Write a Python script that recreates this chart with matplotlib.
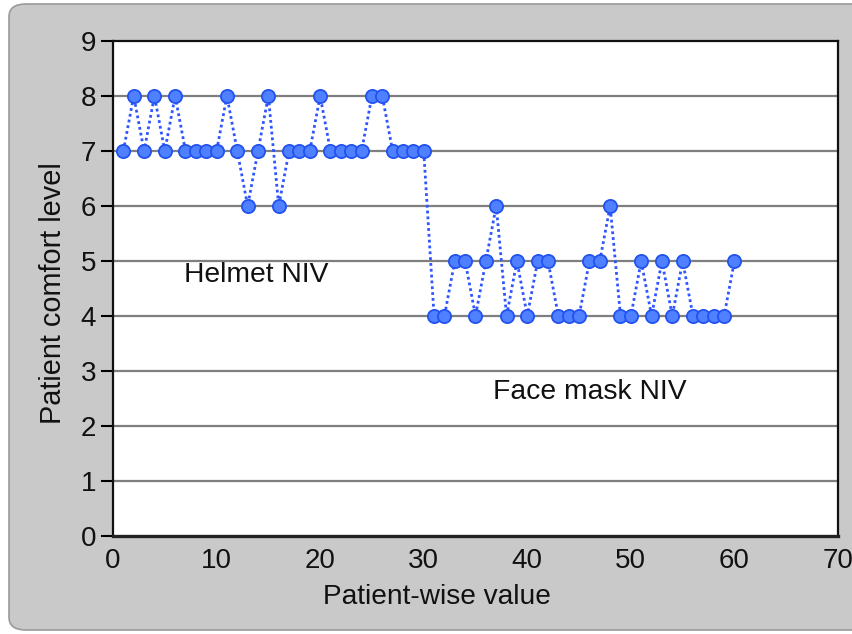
#!/usr/bin/env python3
"""
Patient comfort level, helmet NIV vs face mask NIV.
"""

import matplotlib
matplotlib.use("Agg")
import matplotlib.pyplot as plt
from matplotlib.patches import FancyBboxPatch

### Data ###
# patients 1-30 helmet, 31-60 face mask
patient = list(range(1, 61))
helmet = [7, 8, 7, 8, 7, 8, 7, 7, 7, 7,
          8, 7, 6, 7, 8, 6, 7, 7, 7, 8,
          7, 7, 7, 7, 8, 8, 7, 7, 7, 7]
face_mask = [4, 4, 5, 5, 4, 5, 6, 4, 5, 4,
             5, 5, 4, 4, 4, 5, 5, 6, 4, 4,
             5, 4, 5, 4, 5, 4, 4, 4, 4, 5]
comfort = helmet + face_mask

x_ticks = [0, 10, 20, 30, 40, 50, 60, 70]
y_ticks = [0, 1, 2, 3, 4, 5, 6, 7, 8, 9]

plt.rcParams['font.family'] = ['Liberation Sans', 'DejaVu Sans']

fig = plt.figure(figsize=(8.53, 6.34), dpi=100)
fig.patch.set_facecolor("white")

# grey rounded panel behind everything
panel = FancyBboxPatch((9 / 853, 4 / 634), 860 / 853, 626 / 634,
                       boxstyle="round,pad=0,rounding_size=0.02",
                       transform=fig.transFigure, facecolor="#c9c9c9",
                       edgecolor="#9a9a9a", linewidth=1.2, zorder=-5)
fig.patches.append(panel)

ax = fig.add_axes([113 / 853, 1 - 536 / 634, (838 - 113) / 853, (536 - 41) / 634])
ax.set_zorder(2)
ax.set_facecolor("white")

# horizontal grid
for yv in y_ticks[1:-1]:
    ax.axhline(yv, color="#7f7f7f", linewidth=1.6, zorder=1)

ax.plot(patient, comfort, linestyle=(0, (1, 1.1)), color="#2f55ff", linewidth=2.0,
        marker="o", markersize=9.5, markerfacecolor="#4f80ff",
        markeredgecolor="#2252f0", markeredgewidth=1.3, zorder=3)

ax.text(13.8, 4.75, "Helmet NIV", fontsize=20.3, ha="center", va="center", color="#111111")
ax.text(46.0, 2.62, "Face mask NIV", fontsize=20.3, ha="center", va="center", color="#111111")

ax.set_xlim(0, 70)
ax.set_ylim(0, 9)
ax.set_xticks(x_ticks)
ax.set_yticks(y_ticks)
ax.tick_params(axis="x", length=0, pad=9, labelsize=20, labelcolor="#111111")
ax.tick_params(axis="y", length=9, width=1.5, pad=3, labelsize=20, labelcolor="#111111")

for side in ["left", "right", "top"]:
    ax.spines[side].set_linewidth(1.6)
    ax.spines[side].set_color("#111111")
ax.spines["bottom"].set_linewidth(2.4)
ax.spines["bottom"].set_color("#222222")

ax.set_xlabel("Patient-wise value", fontsize=20.2, color="#111111")
ax.set_ylabel("Patient comfort level", fontsize=20.8, color="#111111")
# label positions (x label sits left of centre)
ax.xaxis.set_label_coords(0.447, -0.097)
ax.yaxis.set_label_coords(-0.064, 0.491)

fig.savefig("out.png", dpi=100)
